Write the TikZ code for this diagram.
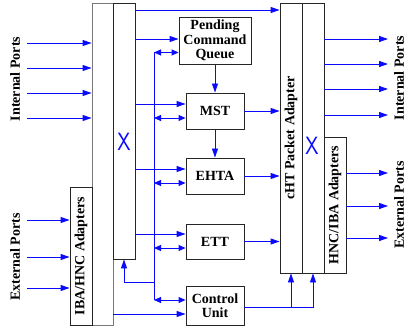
\documentclass[tikz,border=0pt]{standalone}
\usepackage{fontspec}
\setmainfont{Liberation Serif}
\newfontfamily\xbarfont{Liberation Sans}
\usetikzlibrary{arrows.meta}
\definecolor{PortBlue}{RGB}{10,10,255}
\definecolor{FrameGray}{RGB}{120,120,120}
\tikzset{
  unitbox/.style={draw=black!85,line width=0.9pt,fill=white,align=center,
    font=\fontsize{14}{14.5}\selectfont\bfseries,inner sep=1pt},
  colbox/.style={draw=black!85,line width=0.9pt,minimum height=22pt,
    rotate=90,font=\fontsize{14}{14.5}\selectfont\bfseries,inner sep=0pt},
  portlabel/.style={rotate=90,font=\fontsize{14}{14.5}\selectfont\bfseries},
  xbar/.style={text=PortBlue,font=\fontsize{25}{25}\sffamily,xscale=0.85,inner sep=0pt},
  busarrow/.style={-{Triangle[length=9pt,width=6pt]},line width=0.9pt,draw=PortBlue},
  busboth/.style={{Triangle[length=7pt,width=6pt]}-{Triangle[length=7pt,width=6pt]},
    line width=0.9pt,draw=PortBlue},
}
\begin{document}
\begin{tikzpicture}[x=1pt,y=-1pt]
\useasboundingbox (0,0) rectangle (406,328);
% left side: adapters and crossbar
\node[draw=FrameGray,line width=0.9pt,minimum width=21pt,minimum height=322pt,inner sep=0pt] (lcol) at (102.5,164) {};
\node[colbox,minimum width=256pt] (xcol) at (124,131) {};
\node[colbox,minimum width=138pt] (iba) at (81,256) {IBA/HNC Adapters};
\node[xbar] (xl) at (124,142) {X};
% right side: packet adapter and crossbar
\node[colbox,minimum width=270pt] (cht) at (291,138) {cHT Packet Adapter};
\node[colbox,minimum width=270pt] (rxcol) at (313,138) {};
\node[colbox,minimum width=136pt] (hnc) at (335,205) {HNC/IBA Adapters};
\node[xbar] (xr) at (312,146) {X};
% units in the middle
\node[unitbox,minimum width=72pt,minimum height=47pt] (pcq) at (215,40.5) {Pending\\Command\\Queue};
\node[unitbox,minimum width=58pt,minimum height=36pt] (mst) at (215,111) {MST};
\node[unitbox,minimum width=58pt,minimum height=36pt] (ehta) at (215,176) {EHTA};
\node[unitbox,minimum width=58pt,minimum height=35pt] (ett) at (215,241.5) {ETT};
\node[unitbox,minimum width=58pt,minimum height=39pt] (cu) at (215,305.5) {Control\\Unit};
% port labels
\node[portlabel] (inl) at (15,79) {Internal Ports};
\node[portlabel] (exl) at (15,257) {External Ports};
\node[portlabel] (inr) at (399,78) {Internal Ports};
\node[portlabel] (exr) at (399,205) {External Ports};
% ports
\foreach \y in {43,68,93,118}
  \draw[busarrow] (27,\y) -- (lcol.west |- 0,\y);
\foreach \y in {220,257,288}
  \draw[busarrow] (27,\y) -- (iba.north |- 0,\y);
\foreach \y in {39,64,89,115}
  \draw[busarrow] (rxcol.south |- 0,\y) -- (388,\y);
\foreach \y in {173,206,238}
  \draw[busarrow] (hnc.south |- 0,\y) -- (388,\y);
% crossbar to units
\coordinate (bus) at (154,52.5);
\draw[busarrow] (xcol.south |- 0,10) -- (cht.north |- 0,10);
\draw[busarrow] (xcol.south |- 0,39) -- (pcq.west |- 0,39);
\draw[busarrow] (xcol.south |- 0,104) -- ([yshift=7pt]mst.west);
\draw[busarrow] (xcol.south |- 0,169) -- ([yshift=7pt]ehta.west);
\draw[busarrow] (xcol.south |- 0,234) -- ([yshift=7.5pt]ett.west);
\draw[busarrow] (lcol.east |- 0,314) -- ([yshift=-8.5pt]cu.west);
% internal bus
\draw[PortBlue,line width=0.9pt] (bus) -- (bus |- 0,300);
\draw[busboth] (bus) -- ([yshift=-12pt]pcq.west);
\draw[busboth] (bus |- 0,118) -- ([yshift=-7pt]mst.west);
\draw[busboth] (bus |- 0,183) -- ([yshift=-7pt]ehta.west);
\draw[busboth] (bus |- 0,248) -- ([yshift=-6.5pt]ett.west);
\draw[busboth] (bus |- 0,300) -- ([yshift=5.5pt]cu.west);
\draw[busarrow] (bus |- 0,282) -| (xcol.west);
% units to packet adapter
\draw[busarrow] (pcq) -- (mst);
\draw[busarrow] (mst) -- (ehta);
\draw[busarrow] (mst.east) -- (cht.north |- mst.east);
\draw[busarrow] (ehta.east) -- (cht.north |- ehta.east);
\draw[busarrow] (ett.east) -- (cht.north |- ett.east);
\draw[busarrow] ([yshift=-1.5pt]cu.east) -| (rxcol.west);
\draw[busarrow] (cht.west |- 0,307) -- (cht.west);
\end{tikzpicture}
\end{document}
